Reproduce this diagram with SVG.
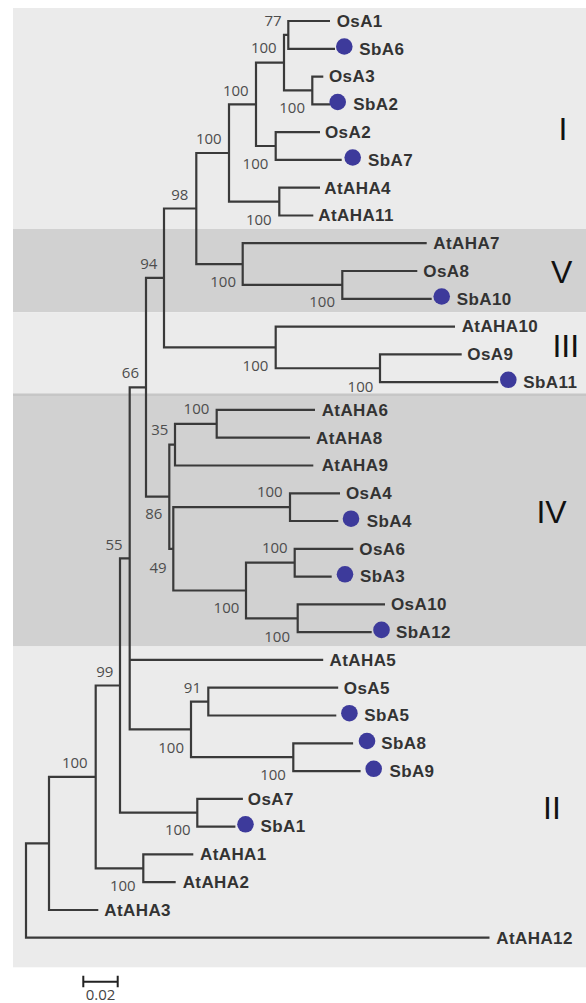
<svg xmlns="http://www.w3.org/2000/svg" width="586" height="1003" viewBox="0 0 586 1003">
  <style>
    .band-light { fill: #ebebeb; }
    .band-dark { fill: #d1d1d1; }
    .branch { fill: none; stroke: #3a3a3a; stroke-width: 2.2; stroke-linejoin: miter; }
    .leaf { font-family: "Liberation Sans", Arial, sans-serif; font-weight: bold; font-size: 17px; letter-spacing: 0.4px; fill: #333333; }
    .boot { font-family: "Open Sans", "Liberation Sans", sans-serif; font-size: 15px; fill: #4d4d4d; text-anchor: end; }
    .clade { font-family: "Liberation Sans", Arial, sans-serif; font-size: 32px; fill: #111111; text-anchor: middle; }
    .dot { fill: #3d3a9b; }
    .scale { fill: none; stroke: #222222; stroke-width: 2; }
    .scale-label { font-family: "Open Sans", "Liberation Sans", sans-serif; font-size: 15px; fill: #444444; text-anchor: middle; }
  </style>

  <rect width="586" height="1003" fill="#ffffff"/>

  <!-- clade background bands -->
  <g id="bands">
    <rect class="band-light" x="13" y="8" width="573" height="221"/>
    <rect class="band-dark" x="13" y="229" width="573" height="83.3"/>
    <rect class="band-light" x="13" y="312.3" width="573" height="82.7"/>
    <rect x="13" y="393.5" width="573" height="3" fill="#c6c6c6"/>
    <rect class="band-dark" x="13" y="396" width="573" height="250.5"/>
    <rect class="band-light" x="13" y="646.5" width="573" height="320.8"/>
  </g>

  <!-- clade names -->
  <g id="clade-labels">
    <text class="clade" x="563" y="140">I</text>
    <text class="clade" x="561.7" y="283.3">V</text>
    <text class="clade" x="565.8" y="357">III</text>
    <text class="clade" x="551.5" y="523.3">IV</text>
    <text class="clade" x="552" y="818.5">II</text>
  </g>

  <!-- tree branches: one elbow per internal node -->
  <g id="connectors">
    <path class="branch" d="M330,21 H288.3 V48.8 H335"/>
    <path class="branch" d="M323.3,76.6 H312.3 V104.3 H330"/>
    <path class="branch" d="M288.3,34.9 H284 V90.45 H312.3"/>
    <path class="branch" d="M320,132.1 H275.7 V159.9 H341.7"/>
    <path class="branch" d="M284,62.7 H256 V146 H275.7"/>
    <path class="branch" d="M320,187.7 H279.3 V215.5 H313.3"/>
    <path class="branch" d="M256,104.35 H229 V201.6 H279.3"/>
    <path class="branch" d="M417.3,271 H342.3 V298.8 H431.7"/>
    <path class="branch" d="M426.7,243.2 H242.7 V284.9 H342.3"/>
    <path class="branch" d="M229,153 H196.3 V264.05 H242.7"/>
    <path class="branch" d="M461.7,354.4 H380 V382.1 H498.3"/>
    <path class="branch" d="M455,326.6 H275.7 V368.25 H380"/>
    <path class="branch" d="M196.3,208.5 H164 V347.4 H275.7"/>
    <path class="branch" d="M315,409.9 H216.7 V437.7 H310"/>
    <path class="branch" d="M216.7,423.8 H175 V465.5 H313.3"/>
    <path class="branch" d="M340,493.3 H290 V521 H338.3"/>
    <path class="branch" d="M353.3,548.8 H294.7 V576.6 H331.7"/>
    <path class="branch" d="M385,604.4 H297.7 V632.2 H371.7"/>
    <path class="branch" d="M294.7,562.7 H246 V618.3 H297.7"/>
    <path class="branch" d="M290,507.15 H173.3 V590.5 H246"/>
    <path class="branch" d="M175,444.65 H169.3 V548.8 H173.3"/>
    <path class="branch" d="M164,277.95 H146 V496.7 H169.3"/>
    <path class="branch" d="M338.2,687.7 H208.3 V715.5 H336.3"/>
    <path class="branch" d="M353.1,743.3 H293.3 V771.1 H360.6"/>
    <path class="branch" d="M208.3,701.6 H191 V757.2 H293.3"/>
    <path class="branch" d="M146,387.3 H129.7 V729.4 H191 M129.7,659.9 H323.2"/>
    <path class="branch" d="M242.9,798.8 H197.3 V826.6 H235.4"/>
    <path class="branch" d="M129.7,558.35 H120 V812.7 H197.3"/>
    <path class="branch" d="M193.3,854.4 H143.3 V882.2 H175.7"/>
    <path class="branch" d="M120,685.5 H95.7 V868.3 H143.3"/>
    <path class="branch" d="M95.7,776.9 H49 V910 H98.3"/>
    <path class="branch" d="M49,843.45 H26 V937.7 H489.5"/>
  </g>

  <!-- bootstrap support values -->
  <g id="support">
    <text class="boot" x="281.7" y="25.7">77</text>
    <text class="boot" x="276.7" y="53.3">100</text>
    <text class="boot" x="305" y="113.3">100</text>
    <text class="boot" x="248.7" y="95.7">100</text>
    <text class="boot" x="268.3" y="169">100</text>
    <text class="boot" x="221.7" y="144">100</text>
    <text class="boot" x="271.7" y="225">100</text>
    <text class="boot" x="188.3" y="200">98</text>
    <text class="boot" x="236" y="286.7">100</text>
    <text class="boot" x="335" y="307.3">100</text>
    <text class="boot" x="157.3" y="269">94</text>
    <text class="boot" x="268.3" y="370.7">100</text>
    <text class="boot" x="373.3" y="391.7">100</text>
    <text class="boot" x="139" y="378.3">66</text>
    <text class="boot" x="209.3" y="414.3">100</text>
    <text class="boot" x="168.3" y="435">35</text>
    <text class="boot" x="162.3" y="519.3">86</text>
    <text class="boot" x="166.7" y="572.7">49</text>
    <text class="boot" x="282.7" y="497.3">100</text>
    <text class="boot" x="287.7" y="553.3">100</text>
    <text class="boot" x="239.3" y="613.3">100</text>
    <text class="boot" x="290" y="641.7">100</text>
    <text class="boot" x="122.7" y="550">55</text>
    <text class="boot" x="113.3" y="676.7">99</text>
    <text class="boot" x="201" y="693.3">91</text>
    <text class="boot" x="184" y="753.3">100</text>
    <text class="boot" x="285.9" y="780">100</text>
    <text class="boot" x="190.7" y="835">100</text>
    <text class="boot" x="87.7" y="767.7">100</text>
    <text class="boot" x="135.7" y="891">100</text>
  </g>

  <!-- leaves -->
  <g id="leaf-OsA1"><text class="leaf" x="336.7" y="27">OsA1</text></g>
  <g id="leaf-SbA6"><circle class="dot" cx="344.3" cy="46.5" r="8.3"/><text class="leaf" x="359.3" y="54.5">SbA6</text></g>
  <g id="leaf-OsA3"><text class="leaf" x="329" y="82.4">OsA3</text></g>
  <g id="leaf-SbA2"><circle class="dot" cx="337.7" cy="102" r="8.3"/><text class="leaf" x="353.3" y="110">SbA2</text></g>
  <g id="leaf-OsA2"><text class="leaf" x="325" y="138">OsA2</text></g>
  <g id="leaf-SbA7"><circle class="dot" cx="352.7" cy="157.5" r="8.3"/><text class="leaf" x="368" y="165.6">SbA7</text></g>
  <g id="leaf-AtAHA4"><text class="leaf" x="324.3" y="193.5">AtAHA4</text></g>
  <g id="leaf-AtAHA11"><text class="leaf" x="318.3" y="221.3">AtAHA11</text></g>
  <g id="leaf-AtAHA7"><text class="leaf" x="433.3" y="249">AtAHA7</text></g>
  <g id="leaf-OsA8"><text class="leaf" x="423.3" y="276.8">OsA8</text></g>
  <g id="leaf-SbA10"><circle class="dot" cx="441.7" cy="296.5" r="8.3"/><text class="leaf" x="456.7" y="304.6">SbA10</text></g>
  <g id="leaf-AtAHA10"><text class="leaf" x="461.7" y="332.4">AtAHA10</text></g>
  <g id="leaf-OsA9"><text class="leaf" x="467.3" y="360.2">OsA9</text></g>
  <g id="leaf-SbA11"><circle class="dot" cx="508.3" cy="379.8" r="8.3"/><text class="leaf" x="523.3" y="387.9">SbA11</text></g>
  <g id="leaf-AtAHA6"><text class="leaf" x="321.7" y="415.7">AtAHA6</text></g>
  <g id="leaf-AtAHA8"><text class="leaf" x="316" y="443.5">AtAHA8</text></g>
  <g id="leaf-AtAHA9"><text class="leaf" x="321.7" y="471.3">AtAHA9</text></g>
  <g id="leaf-OsA4"><text class="leaf" x="346" y="499.1">OsA4</text></g>
  <g id="leaf-SbA4"><circle class="dot" cx="351" cy="518.7" r="8.3"/><text class="leaf" x="366.7" y="526.8">SbA4</text></g>
  <g id="leaf-OsA6"><text class="leaf" x="359.3" y="554.6">OsA6</text></g>
  <g id="leaf-SbA3"><circle class="dot" cx="345" cy="574.3" r="8.3"/><text class="leaf" x="360" y="582.4">SbA3</text></g>
  <g id="leaf-OsA10"><text class="leaf" x="391" y="610.2">OsA10</text></g>
  <g id="leaf-SbA12"><circle class="dot" cx="381.5" cy="629.9" r="8.3"/><text class="leaf" x="396" y="638">SbA12</text></g>
  <g id="leaf-AtAHA5"><text class="leaf" x="329.6" y="665.7">AtAHA5</text></g>
  <g id="leaf-OsA5"><text class="leaf" x="343.8" y="693.5">OsA5</text></g>
  <g id="leaf-SbA5"><circle class="dot" cx="349.4" cy="713.2" r="8.3"/><text class="leaf" x="364.3" y="721.3">SbA5</text></g>
  <g id="leaf-SbA8"><circle class="dot" cx="367" cy="741" r="8.3"/><text class="leaf" x="381.2" y="749.1">SbA8</text></g>
  <g id="leaf-SbA9"><circle class="dot" cx="373.7" cy="768.8" r="8.3"/><text class="leaf" x="389.4" y="776.9">SbA9</text></g>
  <g id="leaf-OsA7"><text class="leaf" x="247.8" y="804.6">OsA7</text></g>
  <g id="leaf-SbA1"><circle class="dot" cx="245.5" cy="824.3" r="8.3"/><text class="leaf" x="260.5" y="832.4">SbA1</text></g>
  <g id="leaf-AtAHA1"><text class="leaf" x="200" y="860.2">AtAHA1</text></g>
  <g id="leaf-AtAHA2"><text class="leaf" x="182.7" y="888">AtAHA2</text></g>
  <g id="leaf-AtAHA3"><text class="leaf" x="104.3" y="915.8">AtAHA3</text></g>
  <g id="leaf-AtAHA12"><text class="leaf" x="496.3" y="943.5">AtAHA12</text></g>

  <!-- scale bar -->
  <g id="scale-bar">
    <path class="scale" d="M83.3,981.7 H117.7 M83.3,975.7 V987.2 M117.7,975.7 V987.2"/>
    <text class="scale-label" x="100.5" y="1000">0.02</text>
  </g>
</svg>
